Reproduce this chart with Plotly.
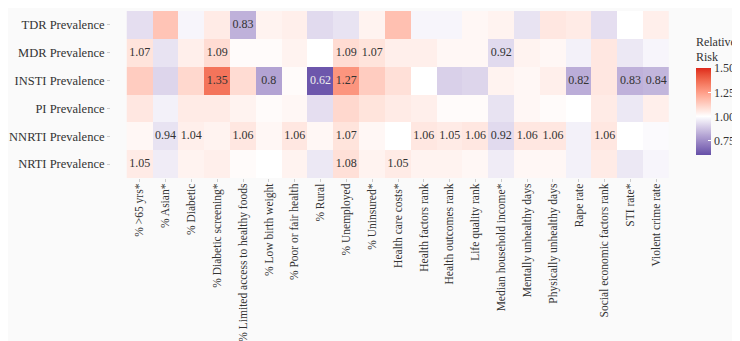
import numpy as np
import plotly.graph_objects as go

rows = ["TDR Prevalence", "MDR Prevalence", "INSTI Prevalence", "PI Prevalence",
        "NNRTI Prevalence", "NRTI Prevalence"]
cols = ["% >65 yrs*", "% Asian*", "% Diabetic", "% Diabetic screening*",
        "% Limited access to healthy foods", "% Low birth weight", "% Poor or fair health",
        "% Rural", "% Unemployed", "% Uninsured*", "Health care costs*",
        "Health factors rank", "Health outcomes rank", "Life quality rank",
        "Median household income*", "Mentally unhealthy days", "Physically unhealthy days",
        "Rape rate", "Social economic factors rank", "STI rate*", "Violent crime rate"]

tdr = [0.93, 1.15, 0.98, 1.05, 0.83, 1.03, 1.04, 0.92, 0.94, 1.03, 1.16, 0.98, 0.98, 1.02, 1.03, 0.94, 1.06, 1.05, 0.93, 1.00, 1.04]
mdr = [1.07, 0.94, 1.04, 1.09, 1.01, 1.01, 1.03, 1.00, 1.09, 1.07, 1.04, 1.04, 1.02, 1.02, 0.92, 1.03, 1.02, 0.97, 1.06, 0.95, 0.98]
insti = [1.13, 0.91, 1.10, 1.35, 1.09, 0.80, 1.01, 0.62, 1.27, 1.13, 1.08, 1.00, 0.90, 0.91, 1.03, 1.02, 1.04, 0.82, 1.06, 0.83, 0.84]
pi = [1.06, 0.97, 1.05, 1.05, 1.03, 1.01, 1.02, 0.93, 1.10, 1.07, 1.05, 1.04, 1.01, 1.01, 0.94, 1.02, 1.01, 1.00, 1.05, 0.95, 1.04]
nnrti = [1.02, 0.94, 1.04, 1.03, 1.06, 1.02, 1.06, 1.02, 1.07, 1.02, 1.00, 1.06, 1.05, 1.06, 0.92, 1.06, 1.06, 0.97, 1.06, 1.00, 0.99]
nrti = [1.05, 0.96, 1.03, 1.04, 1.01, 1.00, 1.03, 0.95, 1.08, 1.03, 1.05, 1.03, 1.03, 1.02, 0.96, 1.02, 1.02, 0.97, 1.05, 0.95, 0.98]

# significant estimates shown as labels (row, column, label)
sig_rows = ["TDR Prevalence",
            "MDR Prevalence", "MDR Prevalence", "MDR Prevalence", "MDR Prevalence", "MDR Prevalence",
            "INSTI Prevalence", "INSTI Prevalence", "INSTI Prevalence", "INSTI Prevalence",
            "INSTI Prevalence", "INSTI Prevalence", "INSTI Prevalence",
            "NNRTI Prevalence", "NNRTI Prevalence", "NNRTI Prevalence", "NNRTI Prevalence",
            "NNRTI Prevalence", "NNRTI Prevalence", "NNRTI Prevalence", "NNRTI Prevalence",
            "NNRTI Prevalence", "NNRTI Prevalence", "NNRTI Prevalence", "NNRTI Prevalence",
            "NRTI Prevalence", "NRTI Prevalence", "NRTI Prevalence"]
sig_cols = ["% Limited access to healthy foods",
            "% >65 yrs*", "% Diabetic screening*", "% Unemployed", "% Uninsured*", "Median household income*",
            "% Diabetic screening*", "% Low birth weight", "% Rural", "% Unemployed",
            "Rape rate", "STI rate*", "Violent crime rate",
            "% Asian*", "% Diabetic", "% Limited access to healthy foods", "% Poor or fair health",
            "% Unemployed", "Health factors rank", "Health outcomes rank", "Life quality rank",
            "Median household income*", "Mentally unhealthy days", "Physically unhealthy days",
            "Social economic factors rank",
            "% >65 yrs*", "% Unemployed", "Health care costs*"]
sig_labels = ["0.83",
              "1.07", "1.09", "1.09", "1.07", "0.92",
              "1.35", "0.8", "0.62", "1.27", "0.82", "0.83", "0.84",
              "0.94", "1.04", "1.06", "1.06", "1.07", "1.06", "1.05", "1.06", "0.92",
              "1.06", "1.06", "1.06",
              "1.05", "1.08", "1.05"]

z = [tdr, mdr, insti, pi, nnrti, nrti]

# ---- diverging Lab gradient (low - white - high), midpoint 1 ----
LOW = (55, 40, 145)
MID = (255, 255, 255)
HIGH = (222, 38, 26)
ZMIN, ZMAX, ZMID = 0.6, 1.5, 1.0


def srgb_to_lab(c):
    c = np.array(c, dtype=float) / 255.0
    c = np.where(c > 0.04045, ((c + 0.055) / 1.055) ** 2.4, c / 12.92)
    M = np.array([[0.4124, 0.3576, 0.1805], [0.2126, 0.7152, 0.0722], [0.0193, 0.1192, 0.9505]])
    xyz = M @ c / np.array([0.95047, 1.0, 1.08883])
    f = np.where(xyz > 0.008856, np.cbrt(xyz), 7.787 * xyz + 16 / 116)
    return np.array([116 * f[1] - 16, 500 * (f[0] - f[1]), 200 * (f[1] - f[2])])


def lab_to_srgb(lab):
    L, a, b = lab
    fy = (L + 16) / 116
    fx = fy + a / 500
    fz = fy - b / 200
    f = np.array([fx, fy, fz])
    xyz = np.where(f ** 3 > 0.008856, f ** 3, (f - 16 / 116) / 7.787) * np.array([0.95047, 1.0, 1.08883])
    Mi = np.array([[3.2406, -1.5372, -0.4986], [-0.9689, 1.8758, 0.0415], [0.0557, -0.2040, 1.0570]])
    c = Mi @ xyz
    c = np.where(c > 0.0031308, 1.055 * np.abs(c) ** (1 / 2.4) - 0.055, 12.92 * c)
    c = np.clip(c, 0, 1) * 255
    return "rgb(%d,%d,%d)" % tuple(np.round(c).astype(int))


labL, labM, labH = srgb_to_lab(LOW), srgb_to_lab(MID), srgb_to_lab(HIGH)
maxd = max(ZMID - ZMIN, ZMAX - ZMID)
colorscale = []
for v in np.linspace(ZMIN, ZMAX, 37):
    t = (v - ZMID) / maxd
    if t < 0:
        lab = labM + (labL - labM) * (-t)
    else:
        lab = labM + (labH - labM) * t
    colorscale.append([(v - ZMIN) / (ZMAX - ZMIN), lab_to_srgb(lab)])

FONT = "Liberation Serif"
TXT = "#333333"

fig = go.Figure()
fig.add_trace(go.Heatmap(
    z=z, x=cols, y=rows, zmin=ZMIN, zmax=ZMAX, colorscale=colorscale,
    xgap=0, ygap=0, hoverongaps=False,
    colorbar=dict(
        title=dict(text="Relative<br>Risk", side="top", font=dict(family=FONT, size=12, color=TXT)),
        tickvals=[0.75, 1.0, 1.25, 1.5], ticktext=["0.75", "1.00", "1.25", "1.50"],
        tickfont=dict(family=FONT, size=12, color=TXT),
        ticks="inside", ticklen=3, tickcolor="white",
        thickness=15, thicknessmode="pixels", len=122, lenmode="pixels",
        x=1.019, xanchor="left", y=0.865, yanchor="top", outlinewidth=0,
        xpad=0, ypad=0,
    ),
))

sig_vals = [z[rows.index(r)][cols.index(c)] for r, c in zip(sig_rows, sig_cols)]
fig.add_trace(go.Scatter(
    x=sig_cols, y=sig_rows, mode="text", text=sig_labels,
    textfont=dict(family=FONT, size=12,
                  color=["#eeeeee" if v < 0.7 else "#333333" for v in sig_vals]),
    hoverinfo="skip", showlegend=False,
))

fig.update_layout(
    width=740, height=341,
    margin=dict(l=103, r=63, t=3, b=171),
    paper_bgcolor="#fafafa", plot_bgcolor="#fafafa",
    font=dict(family=FONT, color=TXT),
    xaxis=dict(type="category", categoryorder="array", categoryarray=cols,
               tickangle=-90, tickfont=dict(family=FONT, size=11.5, color=TXT),
               ticks="outside", ticklen=3, tickcolor="#cccccc", showgrid=False,
               ticklabelstandoff=-3, automargin=False,
               zeroline=False, showline=False),
    yaxis=dict(type="category", categoryorder="array", categoryarray=rows,
               autorange="reversed", tickfont=dict(family=FONT, size=12.5, color=TXT),
               ticks="outside", ticklen=3, tickcolor="#cccccc", showgrid=False,
               automargin=False,
               zeroline=False, showline=False),
)

fig.write_html("out.html")
